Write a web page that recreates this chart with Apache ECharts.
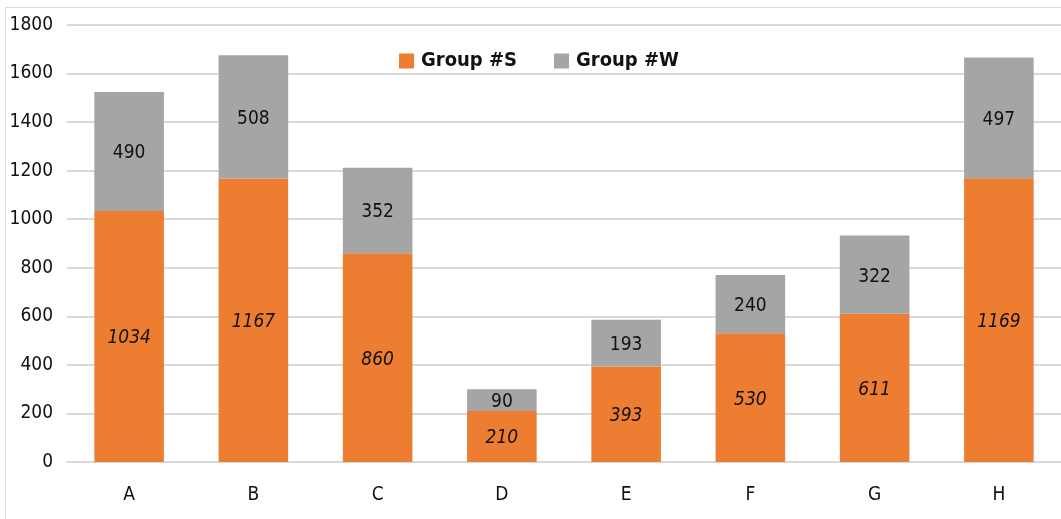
<!DOCTYPE html>
<html>
<head>
<meta charset="utf-8">
<script src="https://cdn.jsdelivr.net/npm/echarts@6/dist/echarts.min.js"></script>
<style>
  html, body { margin: 0; padding: 0; background: #fff; }
  #chart { width: 1061px; height: 519px; }
</style>
</head>
<body>
<div id="chart"></div>
<script>
// Categories and stacked values per group
const categories = ['A', 'B', 'C', 'D', 'E', 'F', 'G', 'H'];
const groupS = [1034, 1167, 860, 210, 393, 530, 611, 1169];
const groupW = [490, 508, 352, 90, 193, 240, 322, 497];
const seriesNames = ['Group #S', 'Group #W'];

const FONT = '"DejaVu Sans Condensed", "Open Sans", sans-serif';
const TEXT = '#111';
const SIZE = 19;
const chart = echarts.init(document.getElementById('chart'));

chart.setOption({
  animation: false,
  backgroundColor: '#fff',
  graphic: [{
    type: 'rect',
    shape: { x: 5.5, y: 7.5, width: 1060, height: 520 },
    style: { fill: 'none', stroke: '#d9d9d9', lineWidth: 1 },
    silent: true,
    z: -1
  }],
  legend: {
    top: 51,
    left: 399,
    itemWidth: 15,
    itemHeight: 15,
    itemGap: 37,
    icon: 'rect',
    padding: 0,
    textStyle: { fontFamily: FONT, fontSize: SIZE + 1, fontWeight: 'bold', color: TEXT, padding: [0, 0, 0, 2] },
    data: seriesNames
  },
  grid: { left: 67, right: 0, top: 25, bottom: 57, containLabel: false },
  xAxis: {
    type: 'category',
    data: categories,
    axisLine: { lineStyle: { color: '#d9d9d9', width: 2 } },
    axisTick: { show: false },
    axisLabel: { fontFamily: FONT, fontSize: SIZE, color: TEXT, margin: 24 }
  },
  yAxis: {
    type: 'value',
    min: 0,
    max: 1800,
    interval: 200,
    axisLine: { show: false },
    axisTick: { show: false },
    splitLine: { lineStyle: { color: '#d9d9d9', width: 2 } },
    axisLabel: { fontFamily: FONT, fontSize: SIZE, color: TEXT, margin: 14, formatter: v => String(v) }
  },
  series: [
    {
      name: seriesNames[0],
      type: 'bar',
      stack: 'total',
      data: groupS,
      barCategoryGap: '44%',
      itemStyle: { color: '#ED7D31' },
      label: {
        show: true,
        position: 'inside',
        offset: [0, 2],
        fontFamily: FONT,
        fontSize: SIZE,
        fontStyle: 'italic',
        color: TEXT
      }
    },
    {
      name: seriesNames[1],
      type: 'bar',
      stack: 'total',
      data: groupW,
      barCategoryGap: '44%',
      itemStyle: { color: '#A5A5A5' },
      label: {
        show: true,
        position: 'inside',
        offset: [0, 2],
        fontFamily: FONT,
        fontSize: SIZE,
        color: TEXT
      }
    }
  ]
});
</script>
</body>
</html>
